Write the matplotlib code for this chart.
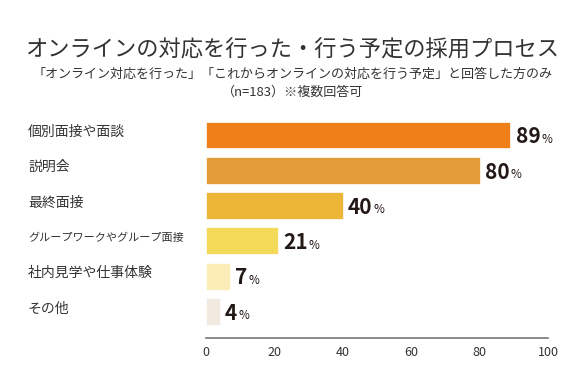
import numpy as np
import matplotlib.pyplot as plt

plt.rcParams['font.family'] = ['Noto Sans CJK JP', 'DejaVu Sans']

categories = ['個別面接や面談', '説明会', '最終面接', 'グループワークやグループ面接', '社内見学や仕事体験', 'その他']
values = [89, 80, 40, 21, 7, 4]
colors = ['#EF8019', '#E19B38', '#ECB535', '#F5DA5A', '#FBEDB5', '#F1E8DF']
xticks = [0, 20, 40, 60, 80, 100]

fig = plt.figure(figsize=(5.85, 3.87), dpi=100)
ax = fig.add_axes([206/585, 1-338/387, 342/585, (338-118)/387])

y = np.arange(len(values))
ax.barh(y, values, height=0.76, color=colors, edgecolor='white', linewidth=0.5)
ax.set_xlim(0, 100)
ax.set_ylim(5.75, -0.48)

for s in ['top', 'right', 'left']:
    ax.spines[s].set_visible(False)
ax.spines['bottom'].set_color('#777777')
ax.spines['bottom'].set_linewidth(1.2)
ax.set_yticks([])
ax.set_xticks(xticks)
ax.tick_params(axis='x', length=0, pad=6, labelsize=9, colors='#333333')

fig.canvas.draw()
for i, v in enumerate(values):
    t = ax.text(v + 1.5, i + 0.05, str(v), va='center', ha='left', fontsize=15,
                fontweight='bold', color='#231815')
    bb = t.get_window_extent(renderer=fig.canvas.get_renderer()).transformed(ax.transData.inverted())
    ax.text(bb.x1 + 0.3, i + 0.12, '%', va='center', ha='left', fontsize=8.5, color='#231815')

for i, c in enumerate(categories):
    fs = 8 if len(c) > 10 else 10
    fig.text(28/585, 1 - (132 + i*35.3)/387, c, ha='left', va='center', fontsize=fs, color='#333333')

fig.text(0.5, 1-50/387, 'オンラインの対応を行った・行う予定の採用プロセス', ha='center', va='center',
         fontsize=16, color='#333333')
fig.text(0.5, 1-74/387, '「オンライン対応を行った」「これからオンラインの対応を行う予定」と回答した方のみ',
         ha='center', va='center', fontsize=9.4, color='#333333')
fig.text(0.5, 1-92/387, '（n=183）※複数回答可', ha='center', va='center', fontsize=9.4, color='#333333')

fig.savefig('out.png', dpi=100)
